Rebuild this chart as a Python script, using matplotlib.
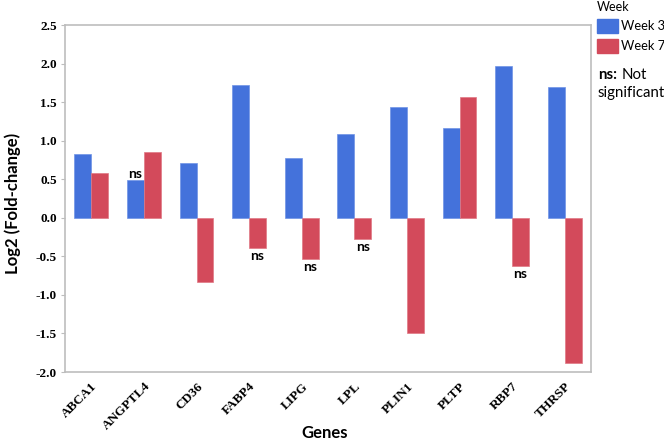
import matplotlib
matplotlib.use("Agg")
import matplotlib.pyplot as plt
import numpy as np
from matplotlib.patches import Rectangle

genes = ["ABCA1", "ANGPTL4", "CD36", "FABP4", "LIPG", "LPL", "PLIN1", "PLTP", "RBP7", "THRSP"]
week3 = [0.83, 0.49, 0.71, 1.72, 0.77, 1.09, 1.44, 1.16, 1.97, 1.69]
week7 = [0.58, 0.85, -0.83, -0.39, -0.53, -0.28, -1.49, 1.57, -0.62, -1.88]
ns_week3 = ["ANGPTL4"]
ns_week7 = ["FABP4", "LIPG", "LPL", "RBP7"]
yticks = [-2.0, -1.5, -1.0, -0.5, 0.0, 0.5, 1.0, 1.5, 2.0, 2.5]

blue = "#4472DB"
red = "#D34A5B"
spine_c = "#BDBDBD"

W, H = 664, 440
fig = plt.figure(figsize=(6.64, 4.40), dpi=100)
ax = fig.add_axes([65/W, 68/H, 526/W, 347/H])

x = np.arange(len(genes))
w = 0.32
ax.bar(x - w/2, week3, width=w, color=blue, edgecolor="#6F93E6", linewidth=0.5, label="Week 3")
ax.bar(x + w/2, week7, width=w, color=red, edgecolor="#E07884", linewidth=0.5, label="Week 7")

ax.set_xlim(-0.5, len(genes) - 0.5)
ax.set_ylim(-2.0, 2.5)
ax.set_yticks(yticks)
ax.set_yticklabels([f"{v:.1f}" for v in yticks], fontfamily="Liberation Serif", fontweight="bold", fontsize=9.5)
ax.set_xticks(x)
ax.set_xticklabels(genes, rotation=45, ha="right", rotation_mode="anchor",
                   fontfamily="Liberation Serif", fontweight="bold", fontsize=9.5)
ax.tick_params(axis="x", length=0, pad=6)
ax.tick_params(axis="y", length=3, color=spine_c, pad=3)
for s in ax.spines.values():
    s.set_color(spine_c)
    s.set_linewidth(1.2)

fig.text(13/W, 1 - 203/H, "Log2 (Fold-change)", rotation=90, fontfamily="Lato", fontweight="bold",
         fontsize=12, ha="center", va="center")
fig.text(325/W, 1 - 433/H, "Genes", fontfamily="Lato", fontweight="bold", fontsize=12,
         ha="center", va="center")

for i, g in enumerate(genes):
    if g in ns_week3:
        ax.annotate("ns", (x[i] - w/2, week3[i]), xytext=(0, 0), textcoords="offset points",
                    ha="center", va="bottom", fontfamily="Lato", fontweight="bold", fontsize=10)
    if g in ns_week7:
        v = week7[i]
        ax.annotate("ns", (x[i] + w/2, v), xytext=(0, -1.5 if v < 0 else 0), textcoords="offset points",
                    ha="center", va="top" if v < 0 else "bottom",
                    fontfamily="Lato", fontweight="bold", fontsize=10)

# legend
fig.text(597/W, 1 - 7/H, "Week", fontfamily="Lato", fontsize=9, ha="left", va="center")
for k, (lab, c) in enumerate([("Week 3", blue), ("Week 7", red)]):
    yc = 26.5 + k * 20
    fig.patches.append(Rectangle((597/W, 1 - (yc + 7)/H), 21/W, 14/H,
                                 transform=fig.transFigure, color=c))
    fig.text(621/W, 1 - yc/H, lab, fontfamily="Lato", fontsize=9.3, ha="left", va="center")
fig.text(598/W, 1 - 75/H, "ns:", fontfamily="Lato", fontweight="bold", fontsize=10.8, ha="left", va="center")
fig.text(622/W, 1 - 75/H, "Not", fontfamily="Lato", fontsize=10.8, ha="left", va="center")
fig.text(598/W, 1 - 93/H, "significant", fontfamily="Lato", fontsize=10.8, ha="left", va="center")

fig.savefig("out.png", dpi=100)
